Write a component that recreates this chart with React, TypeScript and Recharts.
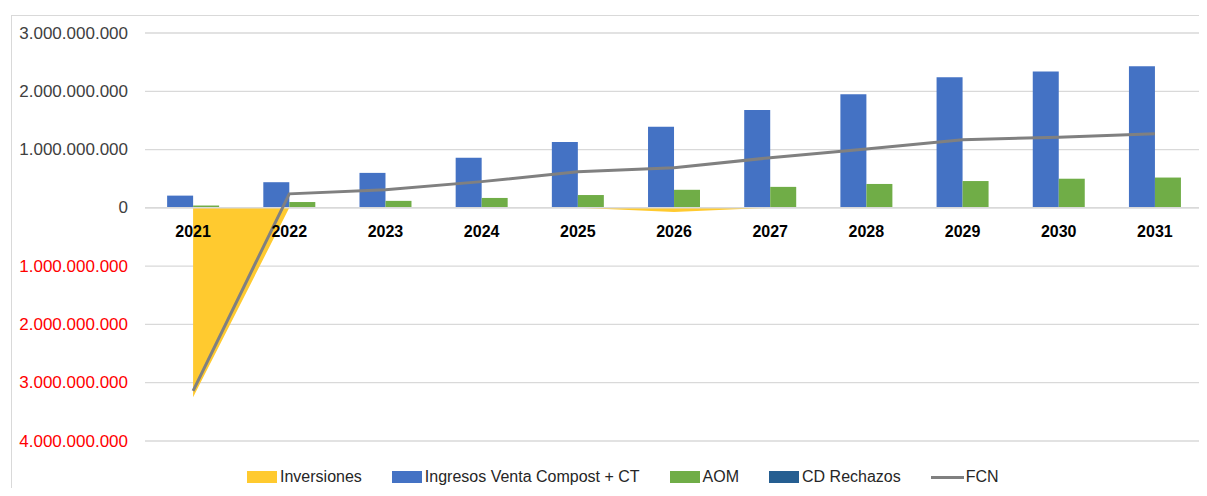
import React from 'react'
import { ComposedChart, Bar, Line, Area, XAxis, YAxis, CartesianGrid, ReferenceLine } from 'recharts'

const years = ['2021', '2022', '2023', '2024', '2025', '2026', '2027', '2028', '2029', '2030', '2031']
const inversiones = [-3250000000, 0, 0, 0, 0, -70000000, 0, 0, 0, 0, 0]
const ingresos = [210000000, 440000000, 600000000, 860000000, 1130000000, 1390000000, 1680000000, 1950000000, 2240000000, 2340000000, 2430000000]
const aom = [40000000, 100000000, 120000000, 170000000, 220000000, 310000000, 360000000, 410000000, 460000000, 500000000, 520000000]
const cdRechazos = [0, 0, 0, 0, 0, 0, 0, 0, 0, 0, 0]
const fcn = [-3140000000, 240000000, 310000000, 450000000, 620000000, 690000000, 860000000, 1010000000, 1170000000, 1210000000, 1270000000]
const yTicks = [-4000000000, -3000000000, -2000000000, -1000000000, 0, 1000000000, 2000000000, 3000000000]

const data = years.map((year, i) => ({
  year,
  inversiones: inversiones[i],
  ingresos: ingresos[i],
  aom: aom[i],
  cdRechazos: cdRechazos[i],
  fcn: fcn[i],
}))

const W = 1207
const H = 496
const TOP = 33
const BOTTOM = 441
const Y_MIN = -4000000000
const Y_MAX = 3000000000
// category labels sit just under the zero line, like Excel does
const ZERO_Y = TOP + (BOTTOM - TOP) * (Y_MAX / (Y_MAX - Y_MIN))

const FONT = '"Liberation Sans", Arial, sans-serif'

const fmt = (v: number) => String(Math.abs(v)).replace(/\B(?=(\d{3})+(?!\d))/g, '.')

const YTick = (props: any) => {
  const { x, y, payload } = props
  const v = payload.value as number
  return (
    <text x={x} y={y} textAnchor="end" dominantBaseline="central" fontFamily={FONT} fontSize={17}
      fill={v < 0 ? '#FF0000' : '#404040'}>
      {fmt(v)}
    </text>
  )
}

const XTick = (props: any) => {
  const { x, payload } = props
  return (
    <text x={x} y={ZERO_Y + 24} textAnchor="middle" dominantBaseline="central" fontFamily={FONT}
      fontSize={16} fontWeight="bold" fill="#000">
      {payload.value}
    </text>
  )
}

const legendItems = [
  { label: 'Inversiones', color: '#FFCA2F', kind: 'box' },
  { label: 'Ingresos Venta Compost + CT', color: '#4472C4', kind: 'box' },
  { label: 'AOM', color: '#70AD47', kind: 'box' },
  { label: 'CD Rechazos', color: '#255E91', kind: 'box' },
  { label: 'FCN', color: '#808080', kind: 'line' },
]

export default function App() {
  return (
    <div style={{ position: 'relative', width: W, height: H, margin: -8, background: '#fff', overflow: 'hidden' }}>
      <div style={{ position: 'absolute', left: 11, top: 15, width: 1210, height: 500, border: '1px solid #D9D9D9' }} />
      <div style={{ position: 'absolute', left: 0, top: 0 }}>
        <ComposedChart width={W} height={H} data={data}
          margin={{ top: TOP, right: 4, bottom: H - BOTTOM - 30, left: 0 }}
          barCategoryGap="23%" barGap={0}>
          <CartesianGrid vertical={false} stroke="#D9D9D9" strokeWidth={1.3} />
          <XAxis dataKey="year" height={30} axisLine={false} tickLine={false} tick={<XTick />} interval={0} />
          <YAxis width={145} domain={[Y_MIN, Y_MAX]} ticks={yTicks} axisLine={false} tickLine={false}
            tickSize={0} tickMargin={17} tick={<YTick />} interval={0} />
          <Area type="linear" dataKey="inversiones" baseValue={0} fill="#FFCA2F" fillOpacity={1}
            stroke="none" isAnimationActive={false} dot={false} activeDot={false} />
          <ReferenceLine y={0} stroke="#D9D9D9" strokeWidth={1.5} />
          <Bar dataKey="ingresos" stackId="a" fill="#4472C4" isAnimationActive={false} />
          <Bar dataKey="aom" stackId="b" fill="#70AD47" isAnimationActive={false} />
          <Bar dataKey="cdRechazos" stackId="b" fill="#255E91" isAnimationActive={false} />
          <Line type="linear" dataKey="fcn" stroke="#808080" strokeWidth={3} dot={false}
            activeDot={false} isAnimationActive={false} />
        </ComposedChart>
      </div>
      <div style={{ position: 'absolute', left: 247, top: 468, display: 'flex', alignItems: 'center',
        fontFamily: FONT, fontSize: 16, color: '#262626', whiteSpace: 'nowrap' }}>
        {legendItems.map((it) => (
          <div key={it.label} style={{ display: 'flex', alignItems: 'center', marginRight: 30 }}>
            {it.kind === 'box'
              ? <span style={{ display: 'inline-block', width: 30, height: 12, background: it.color, marginRight: 3 }} />
              : <span style={{ display: 'inline-block', width: 33, height: 3, background: it.color, marginRight: 2 }} />}
            <span>{it.label}</span>
          </div>
        ))}
      </div>
    </div>
  )
}
